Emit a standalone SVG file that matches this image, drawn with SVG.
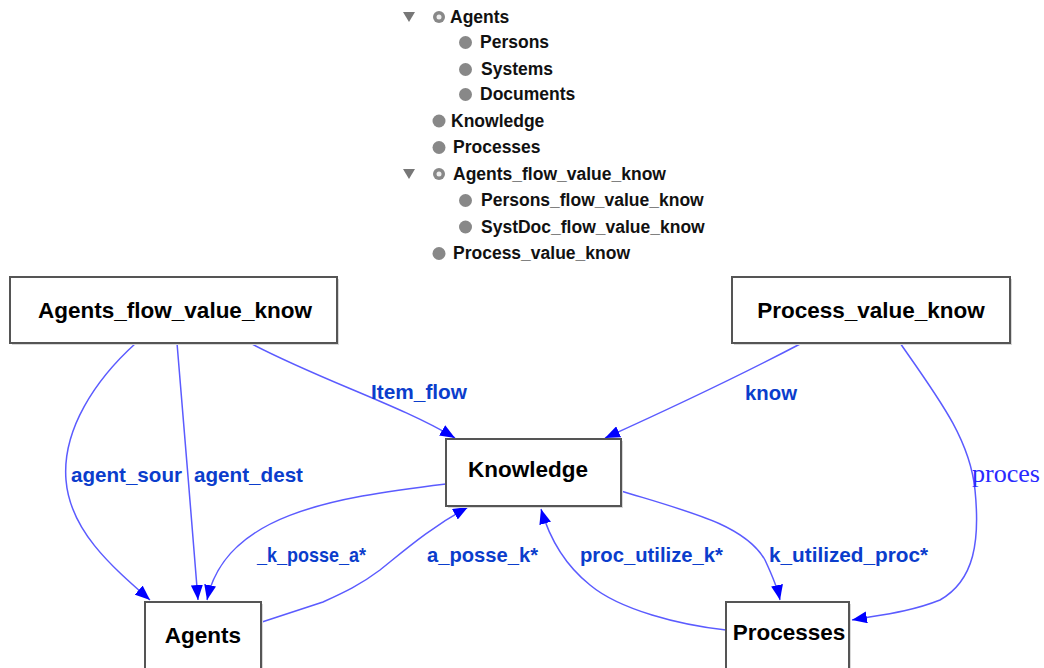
<svg xmlns="http://www.w3.org/2000/svg" width="1044" height="668" viewBox="0 0 1044 668">
<style>
.tree{font-family:"Liberation Sans",Arial,sans-serif;font-weight:bold;font-size:17.5px;fill:#111}
.node rect.b{fill:#fff;stroke:#555;stroke-width:2}
.node rect.s{fill:#d8d8d8;stroke:none}
.node text{font-family:"Liberation Sans",Arial,sans-serif;font-weight:bold;font-size:22.5px;fill:#000;text-anchor:middle}
.edge{fill:none;stroke:#5b5bff;stroke-width:1.5;marker-end:url(#arr)}
.lbl{font-family:"Liberation Sans",Arial,sans-serif;font-weight:bold;font-size:20.5px;fill:#0b3dcc}
.lbls{font-family:"Liberation Serif","Times New Roman",serif;font-size:26px;fill:#2a2aff}
.dot{fill:#888}
.tri{fill:#777}
</style>
<defs>
<marker id="arr" markerUnits="userSpaceOnUse" markerWidth="16" markerHeight="12" refX="15" refY="6" orient="auto">
<path d="M0,0 L15,6 L0,12 z" fill="#0000ff"/>
</marker>
</defs>
<rect width="1044" height="668" fill="#fff"/>
<g id="tree">
<polygon class="tri" points="403,12 415,12 409,22"/>
<circle class="dot" cx="439" cy="17" r="6"/><circle cx="439" cy="17" r="2.5" fill="#eee"/>
<text class="tree" x="450" y="22.5">Agents</text>
<circle class="dot" cx="465.5" cy="42.5" r="6.5"/><text class="tree" x="480" y="48">Persons</text>
<circle class="dot" cx="465.5" cy="69.5" r="6.5"/><text class="tree" x="481" y="75">Systems</text>
<circle class="dot" cx="465.5" cy="94.5" r="6.5"/><text class="tree" x="480" y="100">Documents</text>
<circle class="dot" cx="439" cy="121" r="6.5"/><text class="tree" x="451" y="127">Knowledge</text>
<circle class="dot" cx="439" cy="147.5" r="6.5"/><text class="tree" x="453" y="153">Processes</text>
<polygon class="tri" points="403,169 415,169 409,179"/>
<circle class="dot" cx="439" cy="174" r="6"/><circle cx="439" cy="174" r="2.5" fill="#eee"/>
<text class="tree" x="453" y="180">Agents_flow_value_know</text>
<circle class="dot" cx="465.5" cy="200.5" r="6.5"/><text class="tree" x="481" y="206">Persons_flow_value_know</text>
<circle class="dot" cx="465.5" cy="227" r="6.5"/><text class="tree" x="481" y="233">SystDoc_flow_value_know</text>
<circle class="dot" cx="439" cy="253.5" r="6.5"/><text class="tree" x="453" y="259">Process_value_know</text>
</g>
<g id="connectors">
<path class="edge" d="M136,343 C95,380 62,430 66,480 C70,530 110,565 150,600"/>
<path class="edge" d="M177,343 C183,420 192,520 198,600"/>
<path class="edge" d="M446,484 C330,498 225,515 207,600"/>
<path class="edge" d="M262,622 L323,602 C345,592 360,585 380,570 C405,550 430,528 468,507"/>
<path class="edge" d="M250,343 C320,380 400,405 455,438"/>
<path class="edge" d="M802,343 C760,365 700,395 605,438"/>
<path class="edge" d="M621,491 C690,512 745,525 765,560 C772,575 778,590 780,600"/>
<path class="edge" d="M726,630 C680,625 620,610 590,585 C565,565 550,540 541,509"/>
<path class="edge" d="M900,343 C940,400 970,440 975,490 C980,540 975,580 940,600 C910,612 880,615 852,620"/>
<text class="lbl" x="71" y="482" textLength="111" lengthAdjust="spacingAndGlyphs">agent_sour</text>
<text class="lbl" x="194" y="482" textLength="109" lengthAdjust="spacingAndGlyphs">agent_dest</text>
<text class="lbl" x="371" y="399" textLength="96" lengthAdjust="spacingAndGlyphs">Item_flow</text>
<text class="lbl" x="745" y="400" textLength="52" lengthAdjust="spacingAndGlyphs">know</text>
<text class="lbl" x="257" y="562" textLength="109" lengthAdjust="spacingAndGlyphs">_k_posse_a*</text>
<text class="lbl" x="427" y="562" textLength="111" lengthAdjust="spacingAndGlyphs">a_posse_k*</text>
<text class="lbl" x="580" y="562" textLength="143" lengthAdjust="spacingAndGlyphs">proc_utilize_k*</text>
<text class="lbl" x="769" y="562" textLength="159" lengthAdjust="spacingAndGlyphs">k_utilized_proc*</text>
<text class="lbls" x="972" y="482" textLength="68" lengthAdjust="spacingAndGlyphs">proces</text>
</g>
<g id="n-afvk" class="node">
<rect class="s" x="12" y="279" width="327" height="66"/>
<rect class="b" x="10" y="277" width="327" height="66"/>
<text x="175" y="318">Agents_flow_value_know</text>
</g>
<g id="n-pvk" class="node">
<rect class="s" x="734" y="279" width="278" height="66"/>
<rect class="b" x="732" y="277" width="278" height="66"/>
<text x="871" y="318">Process_value_know</text>
</g>
<g id="n-knowledge" class="node">
<rect class="s" x="448" y="441" width="175" height="67"/>
<rect class="b" x="446" y="439" width="175" height="67"/>
<text x="528" y="477">Knowledge</text>
</g>
<g id="n-agents" class="node">
<rect class="s" x="147" y="604" width="116" height="80"/>
<rect class="b" x="145" y="602" width="116" height="80"/>
<text x="203" y="643">Agents</text>
</g>
<g id="n-processes" class="node">
<rect class="s" x="728" y="604" width="123" height="80"/>
<rect class="b" x="726" y="602" width="123" height="80"/>
<text x="789" y="640">Processes</text>
</g>
</svg>
